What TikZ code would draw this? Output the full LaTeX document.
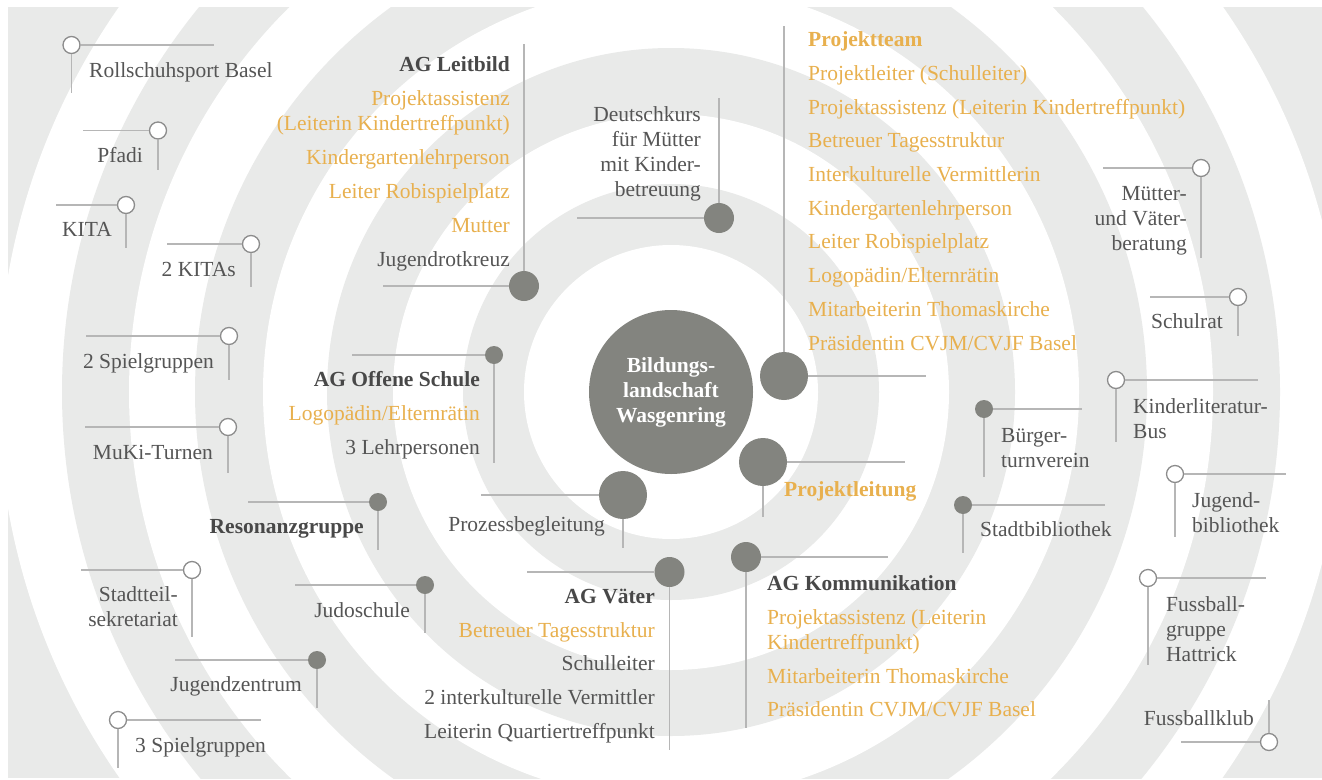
\documentclass[tikz,border=0pt]{standalone}
\usepackage{fontspec}
\setmainfont{Liberation Serif}
\usepackage{tikz}

\definecolor{bandgray}{RGB}{233,234,233}
\definecolor{dotgray}{RGB}{131,132,127}
\definecolor{linegray}{RGB}{182,182,182}
\definecolor{ringgray}{RGB}{140,140,140}
\definecolor{textgray}{RGB}{85,85,85}
\definecolor{headgray}{RGB}{72,72,72}
\definecolor{gold}{RGB}{232,176,78}

\newcommand{\lblfont}{\fontsize{21.5}{25}\selectfont}

\begin{document}
\begin{tikzpicture}[x=1pt,y=-1pt,
    hub/.style={circle,fill=dotgray,minimum size=164pt,inner sep=0pt,text=white,font=\lblfont\bfseries,align=center},
    bigdot/.style={circle,fill=dotgray,minimum size=48pt,inner sep=0pt},
    middot/.style={circle,fill=dotgray,minimum size=30pt,inner sep=0pt},
    smalldot/.style={circle,fill=dotgray,minimum size=18pt,inner sep=0pt},
    ring/.style={circle,draw=ringgray,line width=1.3pt,fill=white,minimum size=17pt,inner sep=0pt},
    link/.style={draw,color=linegray,line width=1.4pt},
    labelE/.style={font=\lblfont,text=textgray,inner sep=0pt,anchor=base east,align=right},
    labelW/.style={font=\lblfont,text=textgray,inner sep=0pt,anchor=base west,align=left}]

    \useasboundingbox (0,0) rectangle (1322,779);

    % rings in the background
    \begin{scope}
        \clip (8,7) rectangle (1322,778);
        \fill[bandgray] (8,7) rectangle (1322,778);
        \foreach \r/\c in {673/white,609/bandgray,542/white,476/bandgray,408/white,344/bandgray,278/white,208/bandgray,147/white}
            \fill[\c] (671,392) circle[radius=\r pt];
    \end{scope}

    % centre
    \node[hub] (hub) at (671,392) {Bildungs-\\landschaft\\Wasgenring};

    % groups (filled dots), text nodes sit on the baseline of their last line
    \node[middot] (leitbild) at (524,286) {};
    \coordinate (leitbild-v) at (524,44);
    \coordinate (leitbild-h) at (383,286);
    \node[labelE] (leitbild-txt) at (510,266.7) {\textcolor{headgray}{\textbf{AG Leitbild}}\\[9pt]
        \textcolor{gold}{Projektassistenz}\\ \textcolor{gold}{(Leiterin Kindertreffpunkt)}\\[9pt]
        \textcolor{gold}{Kindergartenlehrperson}\\[9pt] \textcolor{gold}{Leiter Robispielplatz}\\[9pt]
        \textcolor{gold}{Mutter}\\[9pt] Jugendrotkreuz};

    \node[middot] (deutsch) at (719,218) {};
    \coordinate (deutsch-v) at (719,98);
    \coordinate (deutsch-h) at (577,218);
    \node[labelE] (deutsch-txt) at (701,196) {Deutschkurs\\für Mütter\\mit Kinder-\\betreuung};

    \node[bigdot] (team) at (784,376) {};
    \coordinate (team-v) at (784,26);
    \coordinate (team-h) at (926,376);
    \node[labelW,text=gold] (team-txt) at (808,350) {\textbf{Projektteam}\\[8.7pt]
        Projektleiter (Schulleiter)\\[8.7pt] Projektassistenz (Leiterin Kindertreffpunkt)\\[8.7pt]
        Betreuer Tagesstruktur\\[8.7pt] Interkulturelle Vermittlerin\\[8.7pt]
        Kindergartenlehrperson\\[8.7pt] Leiter Robispielplatz\\[8.7pt]
        Logopädin/Elternrätin\\[8.7pt] Mitarbeiterin Thomaskirche\\[8.7pt]
        Präsidentin CVJM/CVJF Basel};

    \node[bigdot] (leitung) at (763,462) {};
    \coordinate (leitung-h) at (905,462);
    \coordinate (leitung-v) at (763,517);
    \node[labelW,text=gold] (leitung-txt) at (784,496.7) {\textbf{Projektleitung}};

    \node[bigdot] (prozess) at (623,495) {};
    \coordinate (prozess-h) at (481,495);
    \coordinate (prozess-v) at (623,548);
    \node[labelE] (prozess-txt) at (605,531.7) {Prozessbegleitung};

    \node[middot] (vaeter) at (669.5,572) {};
    \coordinate (vaeter-h) at (527,572);
    \coordinate (vaeter-v) at (669.5,750);
    \node[labelE] (vaeter-txt) at (655,738.3) {\textcolor{headgray}{\textbf{AG Väter}}\\[8.7pt]
        \textcolor{gold}{Betreuer Tagesstruktur}\\[8.7pt] Schulleiter\\[8.7pt]
        2 interkulturelle Vermittler\\[8.7pt] Leiterin Quartiertreffpunkt};

    \node[middot] (komm) at (746,557) {};
    \coordinate (komm-h) at (888,557);
    \coordinate (komm-v) at (746,728);
    \node[labelW] (komm-txt) at (767,716.7) {\textcolor{headgray}{\textbf{AG Kommunikation}}\\[8.7pt]
        \textcolor{gold}{Projektassistenz (Leiterin}\\ \textcolor{gold}{Kindertreffpunkt)}\\[8.7pt]
        \textcolor{gold}{Mitarbeiterin Thomaskirche}\\[8.7pt] \textcolor{gold}{Präsidentin CVJM/CVJF Basel}};

    \node[smalldot] (offen) at (494,355) {};
    \coordinate (offen-h) at (352,355);
    \coordinate (offen-v) at (494,463);
    \node[labelE] (offen-txt) at (480,454) {\textcolor{headgray}{\textbf{AG Offene Schule}}\\[8.7pt]
        \textcolor{gold}{Logopädin/Elternrätin}\\[8.7pt] 3 Lehrpersonen};

    \node[smalldot] (resonanz) at (378,502) {};
    \coordinate (resonanz-h) at (248,502);
    \coordinate (resonanz-v) at (378,550);
    \node[labelE] (resonanz-txt) at (364,533) {\textcolor{headgray}{\textbf{Resonanzgruppe}}};

    \node[smalldot] (judo) at (425,585) {};
    \coordinate (judo-h) at (295,585);
    \coordinate (judo-v) at (425,633);
    \node[labelE] (judo-txt) at (410,617.7) {Judoschule};

    \node[smalldot] (jugz) at (317,660) {};
    \coordinate (jugz-h) at (175,660);
    \coordinate (jugz-v) at (317,708);
    \node[labelE] (jugz-txt) at (302,691.7) {Jugendzentrum};

    \node[smalldot] (turn) at (984,409) {};
    \coordinate (turn-h) at (1082,409);
    \coordinate (turn-v) at (984,477);
    \node[labelW] (turn-txt) at (1001,467.3) {Bürger-\\turnverein};

    \node[smalldot] (stabi) at (963,505) {};
    \coordinate (stabi-h) at (1105,505);
    \coordinate (stabi-v) at (963,553);
    \node[labelW] (stabi-txt) at (980,536) {Stadtbibliothek};

    % partners (open rings)
    \node[ring] (rollschuh) at (71.5,45) {};
    \coordinate (rollschuh-h) at (214,45);
    \coordinate (rollschuh-v) at (71.5,93);
    \node[labelW] (rollschuh-txt) at (89,77) {Rollschuhsport Basel};

    \node[ring] (pfadi) at (158,130.5) {};
    \coordinate (pfadi-h) at (83,130.5);
    \coordinate (pfadi-v) at (158,170);
    \node[labelE] (pfadi-txt) at (143,162) {Pfadi};

    \node[ring] (kita) at (126,205) {};
    \coordinate (kita-h) at (56,205);
    \coordinate (kita-v) at (126,248);
    \node[labelE] (kita-txt) at (112,236) {KITA};

    \node[ring] (kitas) at (251,244) {};
    \coordinate (kitas-h) at (167,244);
    \coordinate (kitas-v) at (251,287);
    \node[labelE] (kitas-txt) at (236,276) {2 KITAs};

    \node[ring] (spiel) at (229,336) {};
    \coordinate (spiel-h) at (86,336);
    \coordinate (spiel-v) at (229,380);
    \node[labelE] (spiel-txt) at (214,368) {2 Spielgruppen};

    \node[ring] (muki) at (228,427) {};
    \coordinate (muki-h) at (85,427);
    \coordinate (muki-v) at (228,473);
    \node[labelE] (muki-txt) at (213,459) {MuKi-Turnen};

    \node[ring] (sekr) at (192,570) {};
    \coordinate (sekr-h) at (81,570);
    \coordinate (sekr-v) at (192,637);
    \node[labelE] (sekr-txt) at (178,626.7) {Stadtteil-\\sekretariat};

    \node[ring] (spiel3) at (118,720) {};
    \coordinate (spiel3-h) at (261,720);
    \coordinate (spiel3-v) at (118,768);
    \node[labelW] (spiel3-txt) at (135,752.7) {3 Spielgruppen};

    \node[ring] (beratung) at (1201,168) {};
    \coordinate (beratung-h) at (1103,168);
    \coordinate (beratung-v) at (1201,258);
    \node[labelE] (beratung-txt) at (1187,250.7) {Mütter-\\und Väter-\\beratung};

    \node[ring] (schulrat) at (1238,297) {};
    \coordinate (schulrat-h) at (1150,297);
    \coordinate (schulrat-v) at (1238,336);
    \node[labelE] (schulrat-txt) at (1223,328.3) {Schulrat};

    \node[ring] (bus) at (1116,380) {};
    \coordinate (bus-h) at (1258,380);
    \coordinate (bus-v) at (1116,442);
    \node[labelW] (bus-txt) at (1133,438.3) {Kinderliteratur-\\Bus};

    \node[ring] (jubi) at (1175,474) {};
    \coordinate (jubi-h) at (1286,474);
    \coordinate (jubi-v) at (1175,537);
    \node[labelW] (jubi-txt) at (1192,532.3) {Jugend-\\bibliothek};

    \node[ring] (hattrick) at (1148,578) {};
    \coordinate (hattrick-h) at (1266,578);
    \coordinate (hattrick-v) at (1148,665);
    \node[labelW] (hattrick-txt) at (1166,661.7) {Fussball-\\gruppe\\Hattrick};

    \node[ring] (klub) at (1269,742) {};
    \coordinate (klub-h) at (1181,742);
    \coordinate (klub-v) at (1269,700);
    \node[labelE] (klub-txt) at (1254,725) {Fussballklub};

    % connectors
    \path [link](leitbild) edge (leitbild-v);
    \path [link](leitbild) edge (leitbild-h);
    \path [link](deutsch) edge (deutsch-v);
    \path [link](deutsch) edge (deutsch-h);
    \path [link](team) edge (team-v);
    \path [link](team) edge (team-h);
    \path [link](leitung) edge (leitung-h);
    \path [link](leitung) edge (leitung-v);
    \path [link](prozess) edge (prozess-h);
    \path [link](prozess) edge (prozess-v);
    \path [link](vaeter) edge (vaeter-h);
    \path [link](vaeter) edge (vaeter-v);
    \path [link](komm) edge (komm-h);
    \path [link](komm) edge (komm-v);
    \path [link](offen) edge (offen-h);
    \path [link](offen) edge (offen-v);
    \path [link](resonanz) edge (resonanz-h);
    \path [link](resonanz) edge (resonanz-v);
    \path [link](judo) edge (judo-h);
    \path [link](judo) edge (judo-v);
    \path [link](jugz) edge (jugz-h);
    \path [link](jugz) edge (jugz-v);
    \path [link](turn) edge (turn-h);
    \path [link](turn) edge (turn-v);
    \path [link](stabi) edge (stabi-h);
    \path [link](stabi) edge (stabi-v);
    \path [link](rollschuh) edge (rollschuh-h);
    \path [link](rollschuh) edge (rollschuh-v);
    \path [link](pfadi) edge (pfadi-h);
    \path [link](pfadi) edge (pfadi-v);
    \path [link](kita) edge (kita-h);
    \path [link](kita) edge (kita-v);
    \path [link](kitas) edge (kitas-h);
    \path [link](kitas) edge (kitas-v);
    \path [link](spiel) edge (spiel-h);
    \path [link](spiel) edge (spiel-v);
    \path [link](muki) edge (muki-h);
    \path [link](muki) edge (muki-v);
    \path [link](sekr) edge (sekr-h);
    \path [link](sekr) edge (sekr-v);
    \path [link](spiel3) edge (spiel3-h);
    \path [link](spiel3) edge (spiel3-v);
    \path [link](beratung) edge (beratung-h);
    \path [link](beratung) edge (beratung-v);
    \path [link](schulrat) edge (schulrat-h);
    \path [link](schulrat) edge (schulrat-v);
    \path [link](bus) edge (bus-h);
    \path [link](bus) edge (bus-v);
    \path [link](jubi) edge (jubi-h);
    \path [link](jubi) edge (jubi-v);
    \path [link](hattrick) edge (hattrick-h);
    \path [link](hattrick) edge (hattrick-v);
    \path [link](klub) edge (klub-h);
    \path [link](klub) edge (klub-v);
\end{tikzpicture}
\end{document}
